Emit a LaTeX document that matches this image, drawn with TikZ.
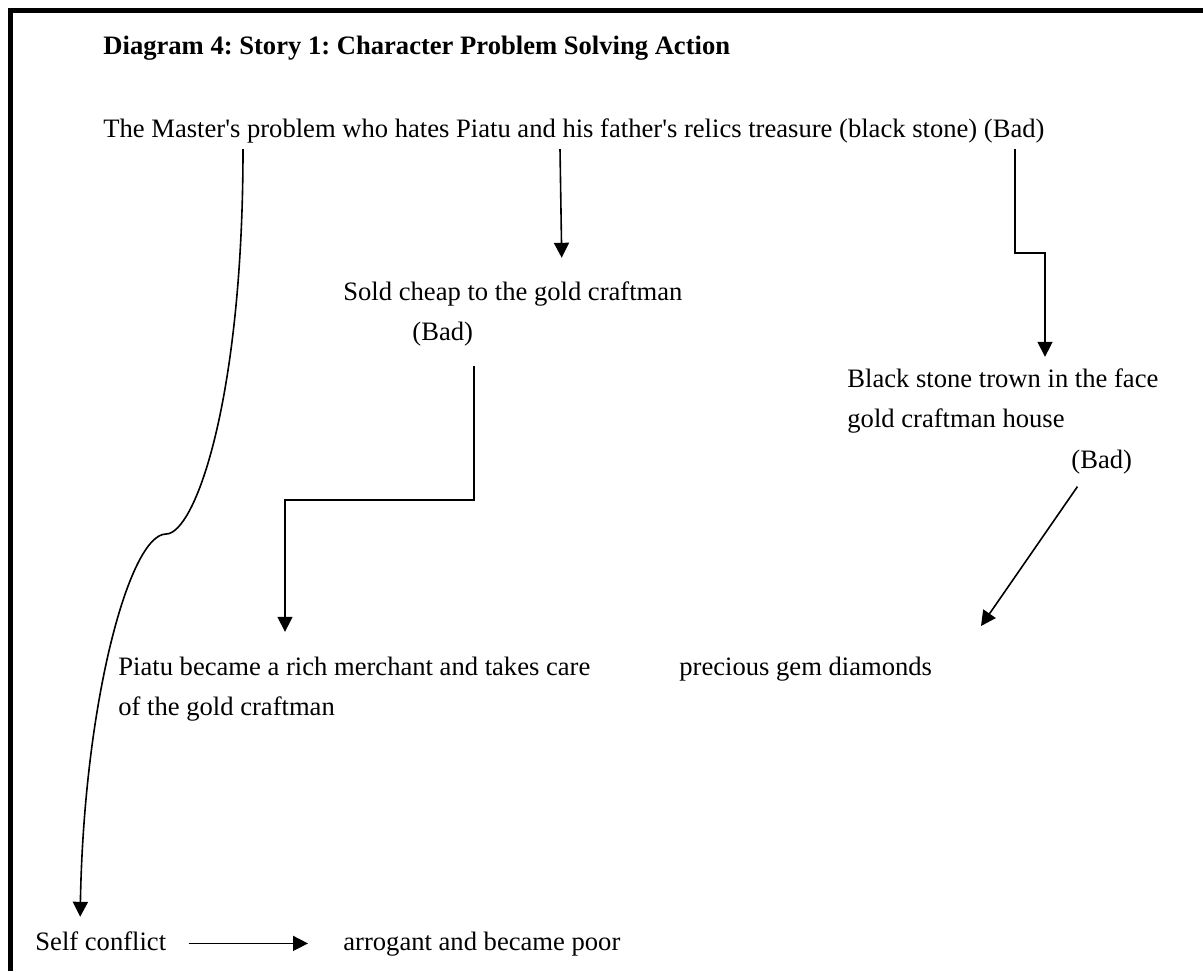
\documentclass[tikz,border=0pt]{standalone}
\usepackage{fontspec}
\newfontfamily\docfont{Liberation Serif}
\usetikzlibrary{arrows.meta}
\frenchspacing

\begin{document}
\begin{tikzpicture}[
    x=0.5pt, y=-0.5pt,
    txt/.style={anchor=base west, inner xsep=0pt, inner ysep=3pt, text height=9.4pt, text depth=2.8pt, font=\docfont\fontsize{13.3}{16}\selectfont},
    arrow/.style={-{Triangle[length=7.5pt, width=7.5pt]}, line width=0.8pt},
]
\useasboundingbox (0,0) rectangle (1203,971);

% Frame (top and left edges)
\draw[line width=2.8pt] (10.5,971) -- (10.5,10.5) -- (1203,10.5);

% Title
\node[txt, font=\docfont\fontsize{13.3}{16}\selectfont\bfseries] (title) at (103,54) {Diagram 4: Story 1: Character Problem Solving Action};

% Problem
\node[txt] (master) at (103,137) {The Master's problem who hates Piatu and his father's relics treasure (black stone) (Bad)};

% Actions
\node[txt] (sold) at (343,300) {Sold cheap to the gold craftman};
\node[txt] (soldbad) at (412,340) {(Bad)};

\node[txt] (black) at (847,387) {Black stone trown in the face};
\node[txt] (blackhouse) at (847,427) {gold craftman house};
\node[txt] (blackbad) at (1071,468) {(Bad)};

% Results
\node[txt] (piatu) at (118,675) {Piatu became a rich merchant and takes care};
\node[txt] (piatucare) at (118,715) {of the gold craftman};
\node[txt] (gems) at (679,675) {precious gem diamonds};

\node[txt] (self) at (35,950) {Self conflict};
\node[txt] (poor) at (343,950) {arrogant and became poor};

\coordinate (gemtip) at (981,626);

% Arrows
\draw[arrow, shorten >=4pt] (master.south -| 243,0) .. controls (243,400) and (195,534) .. (166,534)
    .. controls (130,534) and (84,700) .. (self.north -| 80,0);
\draw[arrow, shorten >=8.5pt] (master.south -| 560,0) -- (sold.north -| 562,0);
\draw[arrow, shorten >=2.5pt] (master.south -| 1015,0) |- (1045,253) -- (black.north -| 1045,0);
\draw[arrow, shorten <=7pt, shorten >=9pt] (soldbad.south -| 474,0) |- (285,500) -- (piatu.north -| 285,0);
\draw[arrow, shorten <=4pt] (blackbad.south -| 1082,0) -- (gemtip);
\draw[arrow, shorten <=11pt, shorten >=17.5pt] (self) -- (poor);

\end{tikzpicture}
\end{document}
